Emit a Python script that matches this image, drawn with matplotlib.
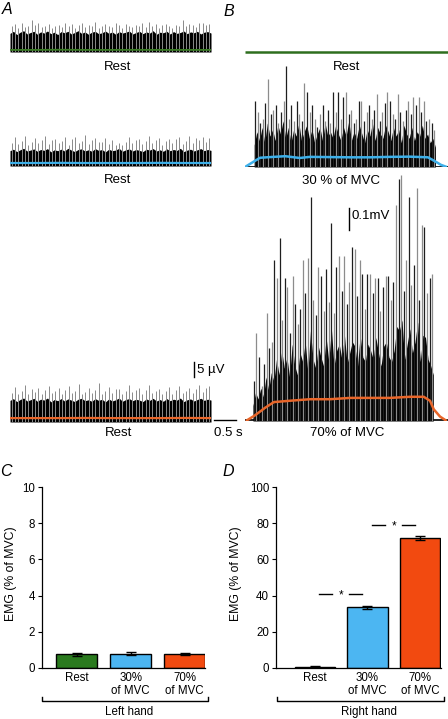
import numpy as np
import matplotlib.pyplot as plt
from matplotlib.lines import Line2D

plt.rcParams['font.family'] = ['Liberation Sans', 'DejaVu Sans']
plt.rcParams['font.size'] = 8

# ---- EMG traces ----
# A: left hand, all rest, in uV (baseline = 0)
a1_spikes = [8.6, 9.2, 8.1, 9.5, 8.4, 8.8, 10.7, 9.0, 9.8, 8.3, 8.7, 9.4, 7.9, 8.5, 9.1,
             8.2, 9.6, 8.8, 9.3, 8.0, 8.9, 9.7, 8.4, 9.0, 8.6, 9.9, 8.1, 8.7, 9.2, 8.5,
             8.3, 9.5, 8.9, 8.0, 9.4, 8.6, 8.2, 9.1, 8.8, 9.6, 8.4, 10.0, 8.7, 9.2, 8.1,
             8.9, 9.3, 8.5, 8.0, 9.0, 8.6, 10.7, 8.8, 9.4, 9.1, 8.3, 9.7, 9.5, 8.9, 9.2]
a1_body = [6.2, 6.9, 5.8, 6.6, 7.1, 6.0, 6.5, 6.9, 5.9, 6.7, 6.3, 7.0, 6.1, 6.6, 5.8,
           6.8, 6.4, 6.9, 6.0, 6.5, 7.1, 6.2, 6.7, 5.9, 6.6, 6.9, 6.1, 6.4, 7.0, 6.2,
           6.7, 5.9, 6.8, 6.3, 6.6, 7.0, 6.0, 6.5, 6.9, 6.1, 6.7, 6.3, 7.1, 5.9, 6.6,
           6.4, 6.9, 6.0, 6.8, 6.2, 6.5, 7.0, 6.1, 6.7, 6.4, 6.9, 6.0, 6.6, 6.8, 6.3]
a1_env = [0.7, 0.7, 0.75, 0.7, 0.7, 0.72, 0.7, 0.7, 0.7]

a2_spikes = [7.8, 9.6, 7.2, 8.4, 9.9, 7.0, 8.1, 9.3, 7.5, 8.8, 10.1, 7.3, 8.6, 9.0, 7.7,
             8.2, 9.8, 7.1, 8.9, 9.5, 7.6, 8.3, 10.3, 7.4, 8.7, 9.2, 7.9, 8.0, 9.4, 7.2,
             8.5, 7.0, 7.8, 6.9, 8.1, 9.7, 7.5, 8.8, 9.1, 7.3, 8.4, 9.9, 7.7, 8.6, 9.3,
             7.1, 8.2, 9.0, 7.6, 8.9, 9.6, 7.4, 8.3, 10.0, 7.8, 9.2, 8.5, 9.8, 7.9, 9.4]
a2_body = [5.1, 5.6, 4.8, 5.4, 5.9, 5.0, 5.3, 5.7, 4.9, 5.5, 5.2, 5.8, 4.7, 5.4, 5.1,
           5.6, 5.0, 5.9, 5.3, 4.8, 5.5, 5.7, 5.0, 5.4, 4.9, 5.8, 5.2, 5.5, 4.7, 5.6,
           5.1, 5.3, 5.9, 4.9, 5.4, 5.7, 5.0, 5.5, 5.2, 4.8, 5.6, 5.3, 5.8, 5.0, 5.4,
           4.9, 5.7, 5.1, 5.5, 5.2, 5.9, 4.8, 5.3, 5.6, 5.0, 5.4, 5.8, 5.1, 5.5, 5.2]
a2_env = [1.0, 1.0, 1.05, 1.0, 1.0, 1.0, 1.05, 1.0, 1.0]

a3_spikes = [9.8, 11.6, 9.2, 10.4, 12.3, 9.5, 10.9, 9.9, 11.2, 9.4, 10.6, 12.0, 9.6, 10.2, 11.4,
             9.3, 10.8, 11.9, 9.7, 10.5, 12.6, 9.5, 10.1, 11.3, 9.8, 10.7, 13.0, 9.4, 10.3, 11.7,
             9.6, 10.9, 11.1, 9.2, 10.4, 12.2, 9.9, 10.6, 11.5, 9.3, 10.8, 12.4, 9.7, 10.2, 11.0,
             9.5, 10.5, 11.8, 9.4, 10.7, 12.1, 9.6, 10.3, 11.4, 9.8, 10.9, 12.5, 10.1, 11.2, 11.9]
a3_body = [7.2, 7.8, 6.8, 7.5, 8.0, 7.0, 7.4, 7.9, 6.9, 7.6, 7.3, 8.0, 6.7, 7.5, 7.1,
           7.8, 7.0, 7.7, 7.3, 6.8, 7.6, 7.9, 7.1, 7.4, 6.9, 7.8, 7.2, 7.6, 6.7, 7.7,
           7.0, 7.4, 8.0, 6.9, 7.5, 7.8, 7.1, 7.6, 7.3, 6.8, 7.7, 7.2, 7.9, 7.0, 7.5,
           6.9, 7.8, 7.1, 7.6, 7.3, 8.0, 6.8, 7.4, 7.7, 7.0, 7.5, 7.9, 7.2, 7.6, 7.3]
a3_env = [1.3, 1.3, 1.3, 1.35, 1.3, 1.3, 1.3, 1.35, 1.3]

# B: right hand, in mV
b30_spikes = [0.30, 0.25, 0.20, 0.22, 0.29, 0.40, 0.24, 0.26, 0.28, 0.20, 0.25, 0.30, 0.46, 0.22,
              0.28, 0.21, 0.30, 0.24, 0.21, 0.38, 0.34, 0.25, 0.28, 0.22, 0.18, 0.24, 0.28, 0.21,
              0.26, 0.20, 0.34, 0.25, 0.34, 0.22, 0.32, 0.34, 0.24, 0.26, 0.20, 0.22, 0.30, 0.30,
              0.21, 0.25, 0.28, 0.22, 0.26, 0.33, 0.21, 0.25, 0.29, 0.34, 0.30, 0.24, 0.22, 0.33,
              0.25, 0.21, 0.26, 0.30, 0.24, 0.32, 0.28, 0.32, 0.25, 0.30, 0.21, 0.22, 0.20, 0.17]
b30_body = [0.10, 0.16, 0.12, 0.18, 0.11, 0.20, 0.14, 0.17, 0.12, 0.19, 0.15, 0.21, 0.13, 0.18,
            0.11, 0.17, 0.14, 0.20, 0.12, 0.16, 0.19, 0.13, 0.17, 0.11, 0.15, 0.18, 0.12, 0.20,
            0.14, 0.16, 0.13, 0.19, 0.15, 0.12, 0.18, 0.14, 0.21, 0.12, 0.16, 0.13, 0.19, 0.15,
            0.11, 0.17, 0.14, 0.20, 0.12, 0.18, 0.15, 0.13, 0.19, 0.16, 0.12, 0.18, 0.14, 0.17,
            0.11, 0.19, 0.15, 0.13, 0.18, 0.12, 0.16, 0.14, 0.19, 0.13, 0.15, 0.11, 0.13, 0.09]
b30_env_t = [0.0, 0.17, 0.36, 0.6, 0.96, 1.31, 1.55, 2.03, 2.51, 2.99, 3.46, 3.94, 4.37, 4.54, 4.68, 4.82]
b30_env = [0.0, 0.02, 0.042, 0.045, 0.049, 0.041, 0.046, 0.045, 0.044, 0.044, 0.046, 0.047, 0.044, 0.026, 0.01, 0.0]

b70_spikes = [0.18, 0.40, 0.29, 0.16, 0.26, 0.49, 0.33, 0.36, 0.73, 0.65, 0.83, 0.46, 0.65, 0.61,
              0.40, 0.66, 0.53, 0.44, 0.51, 0.73, 0.58, 0.74, 1.02, 0.55, 0.48, 0.70, 0.66, 0.50,
              0.69, 0.54, 0.90, 0.49, 0.70, 0.75, 0.59, 0.75, 0.53, 0.63, 0.79, 0.78, 0.57, 0.73,
              0.67, 0.51, 0.67, 0.67, 0.58, 0.65, 0.65, 0.50, 0.61, 0.66, 0.66, 0.55, 0.63, 0.98,
              1.10, 1.12, 0.59, 0.73, 1.02, 0.62, 0.71, 1.06, 0.55, 0.89, 0.88, 0.58, 0.65, 0.67]
b70_body = [0.07, 0.13, 0.10, 0.15, 0.11, 0.20, 0.14, 0.22, 0.18, 0.28, 0.21, 0.32, 0.24, 0.29,
            0.20, 0.35, 0.25, 0.21, 0.31, 0.27, 0.36, 0.22, 0.41, 0.28, 0.24, 0.34, 0.29, 0.25,
            0.38, 0.27, 0.42, 0.25, 0.32, 0.35, 0.28, 0.39, 0.26, 0.31, 0.36, 0.34, 0.25, 0.39,
            0.29, 0.27, 0.35, 0.32, 0.28, 0.38, 0.31, 0.25, 0.34, 0.36, 0.29, 0.27, 0.32, 0.43,
            0.41, 0.46, 0.28, 0.35, 0.42, 0.31, 0.36, 0.45, 0.27, 0.39, 0.38, 0.28, 0.25, 0.21]
b70_env_t = [0.02, 0.24, 0.48, 0.69, 1.07, 1.55, 2.03, 2.51, 2.99, 3.46, 3.94, 4.27, 4.42, 4.51, 4.66, 4.82]
b70_env = [0.0, 0.026, 0.06, 0.086, 0.092, 0.099, 0.099, 0.105, 0.105, 0.105, 0.11, 0.11, 0.092, 0.053, 0.02, 0.0]

# ---- bar charts ----
categories = ['Rest', '30%\nof MVC', '70%\nof MVC']
left_mean = [0.75, 0.80, 0.77]
left_err = [0.07, 0.08, 0.06]
right_mean = [0.8, 33.5, 72.0]
right_err = [0.1, 1.0, 1.2]
bar_colors = ['#2a7a1e', '#4cb6f2', '#f24a10']

green, blue, orange = '#3a7d24', '#3db0ea', '#e8662a'
LBL = 9.5   # text size around the traces

W, H = 448, 719
fig = plt.figure(figsize=(W / 100, H / 100), dpi=100)


def px_axes(l, t, r, b):
    return fig.add_axes([l / W, 1 - b / H, (r - l) / W, (b - t) / H])


def ftext(x, y, s, **kw):
    kw.setdefault('ha', 'center')
    kw.setdefault('va', 'center')
    fig.text(x / W, 1 - y / H, s, **kw)


def fline(xs, ys, **kw):
    fig.add_artist(Line2D([x / W for x in xs], [1 - y / H for y in ys],
                          color='black', lw=1, **kw))


def trace(ax, t_sp, spikes, t_body, body, t_env, env, col, xmax, ymax,
          env_lw=1.6, tones=('#8a8a8a', '#8a8a8a'), sp_lw=0.7):
    shades = [tones[i % 2] for i in range(len(spikes))]
    ax.vlines(t_sp, 0, spikes, colors=shades, lw=sp_lw)
    ax.fill_between(t_body, 0, body, color='black', lw=0)
    ax.plot(t_env, env, color=col, lw=env_lw, solid_capstyle='butt')
    ax.set_xlim(0, xmax)
    ax.set_ylim(0, ymax)
    ax.axis('off')


# panel A
tA = 4.8
ax = px_axes(10, 15, 211, 52)
trace(ax, np.linspace(0.04, 4.76, len(a1_spikes)), a1_spikes,
      np.linspace(0, tA, len(a1_body)), a1_body,
      np.linspace(0, tA, len(a1_env)), a1_env, green, tA, 12.33, env_lw=1.3)

ax = px_axes(10, 129, 211, 166)
trace(ax, np.linspace(0.04, 4.76, len(a2_spikes)), a2_spikes,
      np.linspace(0, tA, len(a2_body)), a2_body,
      np.linspace(0, tA, len(a2_env)), a2_env, blue, tA, 12.33)

ax3 = px_axes(10, 360, 211, 422)
trace(ax3, np.linspace(0.04, 4.76, len(a3_spikes)), a3_spikes,
      np.linspace(0, tA, len(a3_body)), a3_body,
      np.linspace(0, tA, len(a3_env)), a3_env, orange, tA, 20.67)
ax3.plot([4.39, 4.39], [15, 20], color='black', lw=1, clip_on=False)
ax3.text(4.46, 17.4, '5 µV', ha='left', va='center', fontsize=LBL)
ax3.plot([4.87, 5.39], [0.67, 0.67], color='black', lw=1, clip_on=False)
ax3.text(5.22, -3.7, '0.5 s', ha='center', va='center', fontsize=LBL)

# panel B
tB = 4.85
ax = px_axes(245, 45, 448, 59)
ax.plot([0, tB], [0, 0], color='#2e6e1e', lw=1.8, solid_capstyle='butt')
ax.set_xlim(0, tB)
ax.set_ylim(-1, 1)
ax.axis('off')

ax = px_axes(245, 60, 448, 167)
ax.plot([0, tB], [0.002, 0.002], color='black', lw=1.2)
trace(ax, np.linspace(0.24, 4.52, len(b30_spikes)), b30_spikes,
      np.linspace(0.22, 4.55, len(b30_body)), b30_body,
      b30_env_t, b30_env, blue, tB, 0.486, env_lw=1.8,
      tones=('#1e1e1e', '#8c8c8c'), sp_lw=0.9)

ax = px_axes(245, 170, 448, 421)
ax.plot([0, tB], [0.004, 0.004], color='black', lw=1.2)
trace(ax, np.linspace(0.21, 4.47, len(b70_spikes)), b70_spikes,
      np.linspace(0.19, 4.5, len(b70_body)), b70_body,
      b70_env_t, b70_env, orange, tB, 1.141, env_lw=1.8,
      tones=('#1e1e1e', '#8c8c8c'), sp_lw=0.9)
ax.plot([2.48, 2.48], [0.87, 0.97], color='black', lw=1, clip_on=False)
ax.text(2.55, 0.93, '0.1mV', ha='left', va='center', fontsize=LBL)

# trace labels
ftext(118, 67, 'Rest', fontsize=LBL)
ftext(118, 180, 'Rest', fontsize=LBL)
ftext(119, 433, 'Rest', fontsize=LBL)
ftext(347, 67, 'Rest', fontsize=LBL)
ftext(341, 181, '30 % of MVC', fontsize=LBL)
ftext(347, 433, '70% of MVC', fontsize=LBL)

for s, x, y in [('A', 7, 10), ('B', 229, 11), ('C', 6, 472), ('D', 228, 472)]:
    ftext(x, y, s, fontsize=11.5, style='italic')


def bars(ax, means, errs, ymax, step, xlim):
    x = np.arange(len(means))
    ax.bar(x, means, width=0.76, color=bar_colors, edgecolor='black', lw=1,
           yerr=errs, capsize=3.5,
           error_kw=dict(elinewidth=1, capthick=1, ecolor='black'))
    ax.set_xlim(*xlim)
    ax.set_ylim(0, ymax)
    ax.set_yticks(np.arange(0, ymax + step / 2, step))
    ax.set_xticks(x)
    ax.set_xticklabels(categories, linespacing=1.05)
    ax.tick_params(axis='x', length=0, pad=3, labelsize=8.3)
    ax.tick_params(axis='y', length=3, width=0.8, pad=2, labelsize=8.3)
    for sp in ['top', 'right']:
        ax.spines[sp].set_visible(False)
    for sp in ['left', 'bottom']:
        ax.spines[sp].set_linewidth(0.9)
    return x


# panel C
axc = px_axes(42, 487, 205, 668)
bars(axc, left_mean, left_err, 10, 2, (-0.648, 2.38))
ftext(11, 574, 'EMG (% of MVC)', rotation=90, fontsize=8.8)
fline([42, 42, 208, 208], [697, 701, 701, 697])
ftext(129, 712, 'Left hand', fontsize=8.3)

# panel D
axd = px_axes(276, 487, 441, 668)
xd = bars(axd, right_mean, right_err, 100, 20, (-0.73, 2.39))
ftext(236, 574, 'EMG (% of MVC)', rotation=90, fontsize=8.8)
fline([277, 277, 444, 444], [697, 701, 701, 697])
ftext(369, 712, 'Right hand', fontsize=8.3)

sig_y = [41, 79]
for i, y in enumerate(sig_y):
    mid = (xd[i] + xd[i + 1]) / 2
    axd.plot([mid - 0.42, mid - 0.17], [y, y], color='black', lw=1)
    axd.plot([mid + 0.15, mid + 0.40], [y, y], color='black', lw=1)
    axd.annotate('*', (mid, y), xytext=(0, -3.2), textcoords='offset points',
                 ha='center', va='baseline', fontsize=8.5)

fig.savefig('out.png', dpi=100)
